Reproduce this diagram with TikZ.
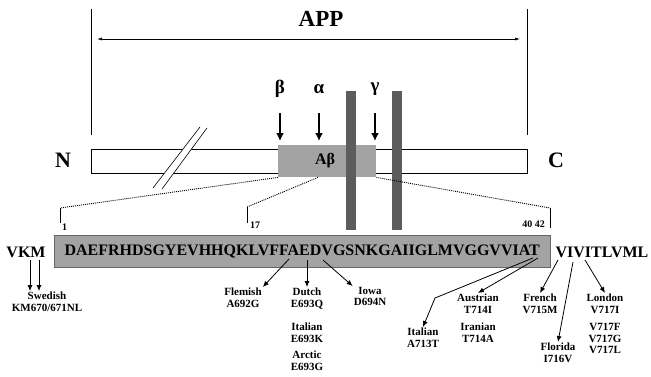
\documentclass[tikz,border=0pt]{standalone}
\usepackage{fontspec}
\setmainfont{Liberation Serif}
\usetikzlibrary{arrows.meta}

\definecolor{boxgrey}{gray}{0.64}
\definecolor{tmgrey}{gray}{0.36}

\begin{document}
\begin{tikzpicture}[x=1pt, y=-1pt,
  mut/.style={-{Latex[length=6pt,width=5pt]}, line width=0.8pt},
  cut/.style={-{Latex[length=8pt,width=8pt]}, line width=1.8pt},
  lab/.style={font=\bfseries\fontsize{11}{11.5}\selectfont, align=center, anchor=north, inner sep=1pt},
  big/.style={font=\bfseries\fontsize{22}{22}\selectfont},
  greek/.style={font=\bfseries\fontsize{19}{19}\selectfont},
  seqfont/.style={font=\bfseries\fontsize{16}{16}\selectfont},
  tick/.style={font=\bfseries\fontsize{10}{10}\selectfont, inner sep=1pt},
  guide/.style={dash pattern=on 1pt off 1pt, line width=0.9pt}]
  \useasboundingbox (0,0) rectangle (651,376);

  % APP span
  \draw[line width=0.5pt] (91,9) -- (91,135);
  \draw[line width=0.5pt] (527,9) -- (527,135);
  \coordinate (appl) at (97,39);
  \coordinate (appr) at (520,39);
  \draw[{Latex[length=5pt,width=3pt]}-{Latex[length=5pt,width=3pt]}, line width=0.6pt] (appl) -- (appr);
  \node[font=\bfseries\fontsize{23}{23}\selectfont] (app) at (321,19) {APP};

  % protein bar
  \draw[line width=0.6pt, fill=white] (91,149) rectangle (527,173);
  \fill[white] (153,188) -- (200,127) -- (207,128) -- (162,189) -- cycle;
  \draw[line width=0.6pt] (153,188) -- (200,127);
  \draw[line width=0.6pt] (162,189) -- (207,128);
  \node[big] (nterm) at (63,160) {N};
  \node[big] (cterm) at (556,160) {C};
  \node[fill=boxgrey, minimum width=98, minimum height=32, anchor=north west] (ab) at (278,145) {};
  \node[font=\bfseries\fontsize{16}{16}\selectfont] (abtext) at (325,161) {Aβ};

  % membrane
  \fill[tmgrey] (346,91) rectangle (356,230);
  \fill[tmgrey] (392,91) rectangle (402,230);

  % secretases
  \node[greek] (beta) at (280,89) {β};
  \node[greek] (alpha) at (319,89) {α};
  \node[greek] (gamma) at (375,89) {γ};
  \draw[cut] (beta |- 0,113) -- (beta |- 0,141);
  \draw[cut] (alpha |- 0,113) -- (alpha |- 0,141);
  \draw[cut] (gamma |- 0,113) -- (gamma |- 0,141);

  % zoom to the sequence
  \coordinate (t1) at (60,208);
  \coordinate (t17) at (247,207);
  \coordinate (t42) at (550,208);
  \draw[guide] (ab.south west) -- (t1);
  \draw[guide] ([xshift=40pt]ab.south west) -- (t17);
  \draw[guide] (ab.south east) -- (t42);
  \draw[line width=0.6pt] (t1) -- (60,223);
  \draw[line width=0.6pt] (t17) -- (247,223);
  \draw[line width=0.6pt] (t42) -- (550,228);
  \node[tick, anchor=west] (n1) at (61,227) {1};
  \node[tick, anchor=west] (n17) at (249,225) {17};
  \node[tick, anchor=east] (n42) at (546,224) {40 42};

  % sequence
  \node[draw=black!60, fill=boxgrey, minimum width=496, minimum height=32,
        anchor=north west, seqfont, inner sep=0pt] (seq) at (54,235)
        {DAEFRHDSGYEVHHQKLVFFAEDVGSNKGAIIGLMVGGVVIAT};
  \node[seqfont] (vkm) at (26,252) {VKM};
  \node[seqfont] (viv) at (602,252) {VIVITLVML};

  % mutation sites
  \coordinate (k670) at (30,260);
  \coordinate (m671) at (39,260);
  \coordinate (a692) at (289,259);
  \coordinate (e693) at (307,260);
  \coordinate (d694) at (323,260);
  \coordinate (a713) at (533,258);
  \coordinate (t714) at (538,258);
  \coordinate (v715) at (558,260);
  \coordinate (i716) at (573,262);
  \coordinate (v717) at (585,260);
  \coordinate (bend) at (435,298);

  % mutations
  \node[lab] (swedish) at (47,291) {Swedish\\KM670/671NL};
  \node[lab] (flemish) at (243,287) {Flemish\\A692G};
  \node[lab] (dutch) at (307,287) {Dutch\\E693Q\\[12pt]Italian\\E693K\\[5pt]Arctic\\E693G};
  \node[lab] (iowa) at (370,286) {Iowa\\D694N};
  \node[lab] (italian) at (423,327) {Italian\\A713T};
  \node[lab] (austrian) at (478,293) {Austrian\\T714I\\[6pt]Iranian\\T714A};
  \node[lab] (french) at (540,293) {French\\V715M};
  \node[lab] (florida) at (558,342) {Florida\\I716V};
  \node[lab] (london) at (605,293) {London\\V717I\\[6pt]V717F\\V717G\\V717L};

  \draw[mut] (k670) -- (k670 |- swedish.north);
  \draw[mut] (m671) -- (m671 |- swedish.north);
  \draw[mut] (a692) -- (flemish.north east);
  \draw[mut] (e693) -- (dutch.north);
  \draw[mut] (d694) -- (iowa.north west);
  \draw[mut] (a713) -- (bend) -- (italian.north);
  \draw[mut] (t714) -- (austrian.north);
  \draw[mut] (v715) -- (french.north);
  \draw[mut] (i716) -- (florida.north);
  \draw[mut] (v717) -- (london.north);
\end{tikzpicture}
\end{document}
